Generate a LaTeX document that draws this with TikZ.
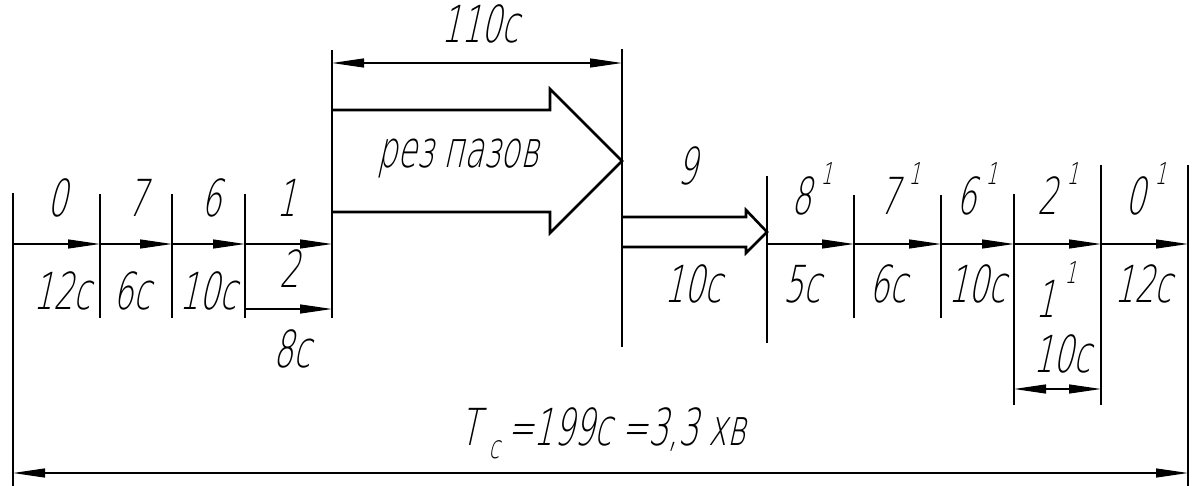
\documentclass[tikz,border=0pt]{standalone}
\usepackage{fontspec}
\setmainfont{DejaVu Sans ExtraLight}[FakeStretch=0.62,FakeSlant=0.22]
\usetikzlibrary{arrows.meta}
\newcommand\supone[1][30pt]{\hspace{9pt}\raisebox{#1}{\fontsize{30}{30}\selectfont 1}}
\begin{document}
\begin{tikzpicture}[x=1pt,y=-1pt,
  thickline/.style={line width=2.6pt},
  thinline/.style={line width=1.2pt},
  tip/.tip={Triangle[length=32pt,width=9pt]},
  dim/.style={thinline,-tip},
  ddim/.style={thinline,tip-tip},
  shapeline/.style={line width=2.6pt,line join=miter},
  lbl/.style={font=\fontsize{51}{53}\selectfont,inner sep=0pt,anchor=base}]
\useasboundingbox (0,0) rectangle (1194,486);

% axis points
\foreach \n/\x in {0/13,1/100,2/172,3/245,4/332,5/622,6/767,7/854,8/941,9/1014,10/1101,11/1188}
  \coordinate (p\n) at (\x,244);

% vertical lines
\draw[thickline] (13,193) coordinate (v0a) -- (13,443) coordinate (v0b);
\draw[thinline] (v0b) -- (13,486);
\draw[thickline] (100,194) -- (100,318);
\draw[thickline] (172,194) -- (172,318);
\draw[thickline] (245,194) -- (245,318);
\draw[thinline] (332,50) coordinate (e1) -- (332,110);
\draw[thickline] (332,110) -- (332,318);
\draw[thinline] (622,49) coordinate (e2) -- (622,97);
\draw[thickline] (622,97) -- (622,347);
\draw[thickline] (767,176) -- (767,343);
\draw[thickline] (854,195) -- (854,318);
\draw[thickline] (941,195) -- (941,318);
\draw[thickline] (1014,194) -- (1014,318);
\draw[thinline] (1014,318) -- (1014,405);
\draw[thickline] (1101,165) -- (1101,318);
\draw[thinline] (1101,318) -- (1101,405);
\draw[thickline] (1188,165) -- (1188,318);
\draw[thinline] (1188,318) -- (1188,486);

% axis arrows
\draw[dim] (p0) -- (p1);
\draw[dim] (p1) -- (p2);
\draw[dim] (p2) -- (p3);
\draw[dim] (p3) -- (p4);
\draw[dim] (p6) -- (p7);
\draw[dim] (p7) -- (p8);
\draw[dim] (p8) -- (p9);
\draw[dim] (p9) -- (p10);
\draw[dim] (p10) -- (p11);

% dimension arrows
\coordinate (d110a) at (332,63); \coordinate (d110b) at (622,63);
\draw[ddim] (d110a) -- (d110b);
\coordinate (d8a) at (245,309); \coordinate (d8b) at (332,309);
\draw[dim] (d8a) -- (d8b);
\coordinate (d10a) at (1014,389); \coordinate (d10b) at (1101,389);
\draw[ddim] (d10a) -- (d10b);
\coordinate (dTa) at (13,473); \coordinate (dTb) at (1188,473);
\draw[ddim] (dTa) -- (dTb);

% big arrow
\draw[shapeline] (332,110) -- (550,110) -- (550,89) -- (622,161) -- (550,233) -- (550,212) -- (332,212);
% small arrow
\draw[shapeline] (622,217) -- (746,217) -- (746,210) -- (767,232) -- (746,253) -- (746,247) -- (622,247);

% labels
\node[lbl] (l0) at (58,217) {0};
\node[lbl] (l7) at (138,217) {7};
\node[lbl] (l6) at (212,217) {6};
\node[lbl] (l1) at (287,217) {1};
\node[lbl] (t12) at (62,309) {12с};
\node[lbl] (t6) at (132,309) {6с};
\node[lbl] (t10) at (208,309) {10с};
\node[lbl] (l2) at (290,288) {2};
\node[lbl] (t8) at (292,367) {8с};
\node[lbl] (t110) at (480,43) {110с};
\node[lbl] (cut) at (458,168) {рез пазов};
\node[lbl] (l9) at (688,185) {9};
\node[lbl] (t10b) at (693,303) {10с};
\node[lbl] (l8p) at (812,215) {8\supone};
\node[lbl] (t5) at (802,303) {5с};
\node[lbl] (l7p) at (900,215) {7\supone};
\node[lbl] (t6b) at (888,303) {6с};
\node[lbl] (l6p) at (977,215) {6\supone};
\node[lbl] (t10c) at (977,302) {10с};
\node[lbl] (l2p) at (1058,215) {2\supone};
\node[lbl] (l1p) at (1056,317) {1\supone[34pt]};
\node[lbl] (t10d) at (1062,372) {10с};
\node[lbl] (l0p) at (1146,215) {0\supone};
\node[lbl] (t12b) at (1143,302) {12с};
\node[lbl] (tc) at (603,445) {T\hspace{9pt}\raisebox{-13pt}{\fontsize{32}{32}\selectfont с}\hspace{8pt}=199с =3,3 хв};
\end{tikzpicture}
\end{document}
